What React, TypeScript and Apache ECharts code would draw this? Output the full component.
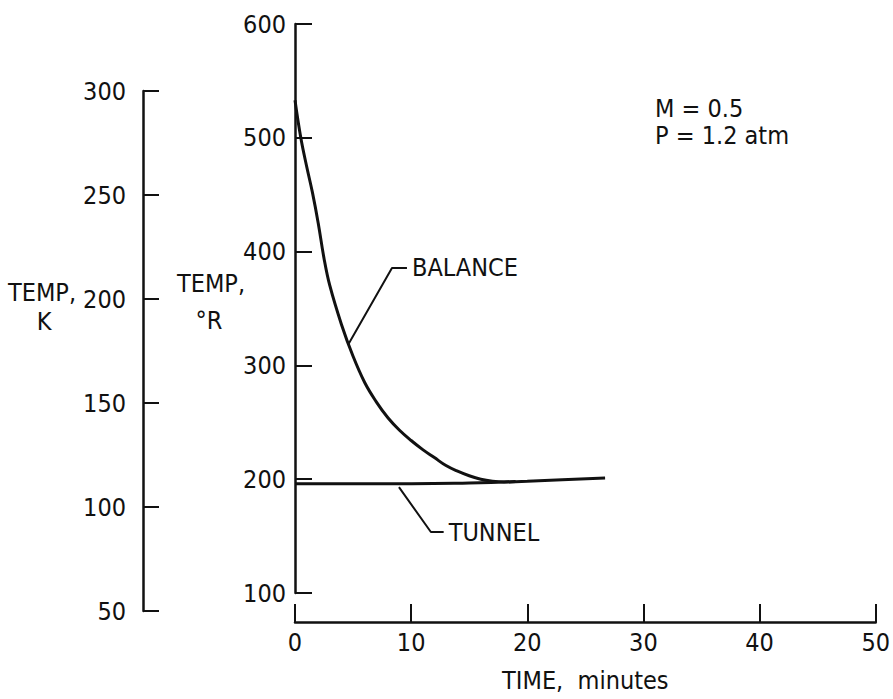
import React, { useEffect, useRef } from "react";
import * as echarts from "echarts";

const FONT = "'Liberation Sans Narrow', 'DejaVu Sans Condensed', 'Roboto Condensed', 'Liberation Sans', sans-serif";
const INK = "#111";
const FS = 25;

const xTicks = [0, 10, 20, 30, 40, 50];
const rTicks = [100, 200, 300, 400, 500, 600];
const kTicks = [50, 100, 150, 200, 250, 300];

const balanceTime = [0, 0.5, 1, 1.5, 2, 2.5, 3, 4, 5, 6, 7, 8, 9, 10, 11, 12, 13, 14, 15, 16, 17, 18, 19];
const balanceTemp = [533, 500, 475, 452, 425, 394, 370, 336, 308, 285, 268, 254, 243, 234, 226, 219, 212, 207, 203, 200, 198.3, 197.6, 197.9];

const tunnelTime = [0, 5, 10, 15, 18, 20, 23, 26.7];
const tunnelTemp = [196, 196, 196, 196.6, 197.5, 198.2, 199.5, 201];

const balanceLeaderTime = [4.56, 8.35, 9.64];
const balanceLeaderTemp = [318, 385.6, 385.6];
const tunnelLeaderTime = [8.95, 11.7, 12.8];
const tunnelLeaderTemp = [193, 153.6, 153.6];

const zip = (a: number[], b: number[]) => a.map((v, i) => [v, b[i]]);

export default function App() {
  const ref = useRef<HTMLDivElement>(null);
  useEffect(() => {
    if (!ref.current) return;
    const chart = echarts.init(ref.current, null, { renderer: "svg" });
    const axisText = { color: INK, fontFamily: FONT, fontSize: FS };
    const font = `${FS}px ${FONT}`;
    chart.setOption({
      animation: false,
      backgroundColor: "#fff",
      grid: [
        { left: 295, width: 582, top: 24, height: 569 },
        { left: 143, width: 10, top: 91, height: 520 },
      ],
      xAxis: [
        {
          gridIndex: 0,
          type: "value",
          min: xTicks[0],
          max: xTicks[xTicks.length - 1],
          interval: 10,
          position: "bottom",
          offset: 29,
          axisLine: { show: true, lineStyle: { color: INK, width: 2.5 } },
          axisTick: { show: true, inside: true, length: 18, lineStyle: { color: INK, width: 2 } },
          axisLabel: { ...axisText, margin: 8 },
          splitLine: { show: false },
          name: "TIME,  minutes",
          nameLocation: "middle",
          nameGap: 46,
          nameTextStyle: { ...axisText, verticalAlign: "top" },
        },
        { gridIndex: 1, type: "value", show: false, min: 0, max: 1 },
      ],
      yAxis: [
        {
          gridIndex: 0,
          type: "value",
          min: rTicks[0],
          max: rTicks[rTicks.length - 1],
          interval: 100,
          axisLine: { show: true, lineStyle: { color: INK, width: 2.5 } },
          axisTick: { show: true, inside: true, length: 17, lineStyle: { color: INK, width: 2 } },
          axisLabel: { ...axisText, margin: 9 },
          splitLine: { show: false },
        },
        {
          gridIndex: 1,
          type: "value",
          min: kTicks[0],
          max: kTicks[kTicks.length - 1],
          interval: 50,
          axisLine: { show: true, lineStyle: { color: INK, width: 2.5 } },
          axisTick: { show: true, inside: true, length: 16, lineStyle: { color: INK, width: 2 } },
          axisLabel: { ...axisText, margin: 17 },
          splitLine: { show: false },
        },
      ],
      series: [
        {
          type: "line",
          xAxisIndex: 0,
          yAxisIndex: 0,
          data: zip(tunnelTime, tunnelTemp),
          symbol: "none",
          smooth: true,
          lineStyle: { color: INK, width: 3 },
        },
        {
          type: "line",
          xAxisIndex: 0,
          yAxisIndex: 0,
          data: zip(balanceTime, balanceTemp),
          symbol: "none",
          smooth: 0.4,
          lineStyle: { color: INK, width: 3 },
        },
        {
          type: "line",
          xAxisIndex: 0,
          yAxisIndex: 0,
          data: zip(balanceLeaderTime, balanceLeaderTemp),
          symbol: "none",
          lineStyle: { color: INK, width: 2 },
          endLabel: { show: true, formatter: "BALANCE", distance: 5, ...axisText },
        },
        {
          type: "line",
          xAxisIndex: 0,
          yAxisIndex: 0,
          data: zip(tunnelLeaderTime, tunnelLeaderTemp),
          symbol: "none",
          lineStyle: { color: INK, width: 2 },
          endLabel: { show: true, formatter: "TUNNEL", distance: 5, ...axisText },
        },
      ],
      graphic: [
        { type: "text", left: 655, top: 96, style: { text: "M = 0.5", fill: INK, font } },
        { type: "text", left: 655, top: 123, style: { text: "P = 1.2 atm", fill: INK, font } },
        { type: "text", x: 211, y: 283, style: { text: "TEMP,", fill: INK, font, align: "center", verticalAlign: "middle" } },
        { type: "text", x: 209, y: 320, style: { text: "°R", fill: INK, font, align: "center", verticalAlign: "middle" } },
        { type: "text", x: 42, y: 292, style: { text: "TEMP,", fill: INK, font, align: "center", verticalAlign: "middle" } },
        { type: "text", x: 44, y: 321, style: { text: "K", fill: INK, font, align: "center", verticalAlign: "middle" } },
      ],
    });
    return () => chart.dispose();
  }, []);
  return <div ref={ref} style={{ width: 893, height: 699, position: "absolute", left: 0, top: 0 }} />;
}
